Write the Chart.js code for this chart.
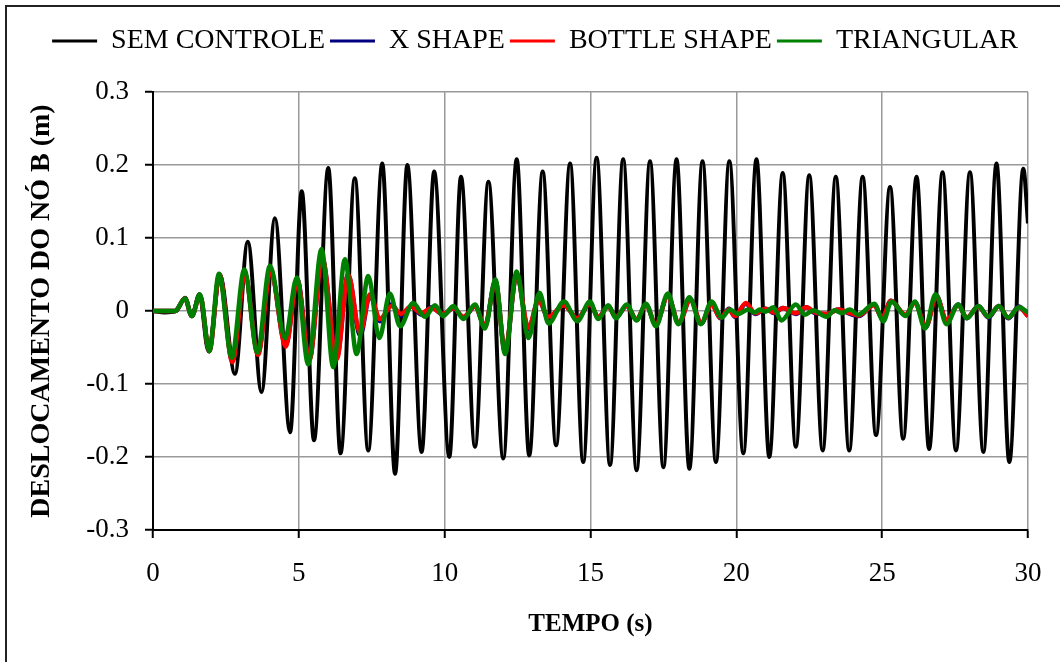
<!DOCTYPE html>
<html>
<head>
<meta charset="utf-8">
<title>Deslocamento do nó B</title>
<script src="https://cdn.jsdelivr.net/npm/chart.js@4.4.1/dist/chart.umd.min.js"></script>
<style>
    html, body { margin: 0; padding: 0; background: #fff; }
    #chart-box { width: 1060px; height: 662px; }
</style>
</head>
<body>
<div id="chart-box">
    <canvas id="deslocamento-chart" width="1060" height="662"></canvas>
</div>
<script>
// ============== data (tempo in s, deslocamento in m) ==============
const semControleTempo = [0, 0.4, 0.8, 1.1, 1.33, 1.59, 1.9, 2.3, 2.81, 3.25,
    3.72, 4.18, 4.7, 5.1, 5.52, 6.01, 6.43, 6.92, 7.38, 7.86,
    8.30, 8.72, 9.21, 9.64, 10.16, 10.56, 11.04, 11.5, 12.01, 12.47,
    12.9, 13.36, 13.82, 14.3, 14.75, 15.21, 15.67, 16.12, 16.58, 17.04,
    17.5, 17.95, 18.39, 18.84, 19.3, 19.76, 20.24, 20.69, 21.13, 21.59,
    22.04, 22.5, 22.96, 23.41, 23.87, 24.33, 24.79, 25.27, 25.72, 26.18,
    26.61, 27.07, 27.53, 28.01, 28.47, 28.92, 29.36, 29.84, 30];
const semControle = [0, -0.002, 0, 0.018, -0.007, 0.023, -0.055, 0.048, -0.086, 0.095,
    -0.111, 0.127, -0.166, 0.164, -0.177, 0.196, -0.195, 0.182, -0.191, 0.202,
    -0.223, 0.2, -0.193, 0.191, -0.2, 0.184, -0.186, 0.177, -0.202, 0.208,
    -0.198, 0.191, -0.184, 0.202, -0.207, 0.21, -0.211, 0.208, -0.218, 0.205,
    -0.214, 0.208, -0.216, 0.205, -0.207, 0.205, -0.195, 0.208, -0.2, 0.189,
    -0.186, 0.186, -0.191, 0.184, -0.191, 0.184, -0.17, 0.17, -0.175, 0.184,
    -0.189, 0.19, -0.191, 0.19, -0.193, 0.202, -0.207, 0.195, 0.12];

// X SHAPE and BOTTLE SHAPE were read at the same instants
const controleTempo = [0, 0.75, 1.1, 1.33, 1.61, 1.93, 2.28, 2.72, 3.15, 3.6,
    4.03, 4.55, 4.95, 5.36, 5.8, 6.3, 6.69, 7.1, 7.44, 7.78,
    8.18, 8.5, 8.85, 9.2, 9.55, 9.95, 10.3, 10.64, 11.04, 11.38,
    11.74, 12.07, 12.47, 12.87, 13.22, 13.56, 14.09, 14.55, 14.98, 15.27,
    15.61, 15.87, 16.24, 16.58, 16.9, 17.24, 17.65, 18.03, 18.42, 18.8,
    19.15, 19.45, 19.75, 19.95, 20.33, 20.65, 21.0, 21.3, 21.6, 22.04,
    22.4, 22.7, 23.1, 23.5, 23.9, 24.2, 24.72, 25.0, 25.3, 25.8,
    26.12, 26.5, 26.86, 27.21, 27.61, 27.9, 28.3, 28.64, 29.0, 29.32,
    29.69, 30];
const xShape = [0, 0, 0.017, -0.007, 0.022, -0.055, 0.05, -0.068, 0.05, -0.058,
    0.055, -0.047, 0.043, -0.066, 0.072, -0.064, 0.05, -0.034, 0.022, -0.014,
    0.009, -0.006, 0.006, -0.005, 0.005, -0.005, 0.004, -0.009, 0.006, -0.021,
    0.041, -0.056, 0.05, -0.025, 0.015, -0.01, 0.009, -0.011, 0.01, -0.009,
    0.007, -0.009, 0.007, -0.012, 0.009, -0.019, 0.021, -0.017, 0.016, -0.017,
    0.01, -0.01, 0.003, -0.008, 0.01, -0.004, 0.003, -0.003, 0.004, -0.004,
    0.005, -0.003, -0.004, 0.002, -0.004, -0.007, 0.009, -0.01, 0.014, -0.006,
    0.012, -0.022, 0.021, -0.014, 0.009, -0.01, 0.007, -0.009, 0.007, -0.01,
    0.006, -0.007];
const bottleShape = [0, 0, 0.017, -0.007, 0.022, -0.055, 0.05, -0.07, 0.05, -0.06,
    0.055, -0.049, 0.042, -0.067, 0.073, -0.066, 0.05, -0.03, 0.023, -0.011,
    0.007, -0.004, 0.006, -0.003, 0.004, -0.004, 0.004, -0.008, 0.006, -0.02,
    0.04, -0.055, 0.05, -0.023, 0.014, -0.008, 0.008, -0.01, 0.01, -0.008,
    0.006, -0.008, 0.007, -0.011, 0.008, -0.018, 0.02, -0.016, 0.015, -0.016,
    0.009, -0.009, 0.002, -0.007, 0.011, -0.003, 0.003, -0.002, 0.004, -0.003,
    0.005, -0.002, -0.004, 0.002, -0.003, -0.006, 0.008, -0.009, 0.014, -0.005,
    0.011, -0.021, 0.02, -0.013, 0.008, -0.009, 0.006, -0.008, 0.007, -0.009,
    0.005, -0.007];

const triangularTempo = [0, 0.75, 1.1, 1.33, 1.61, 1.93, 2.26, 2.7, 3.13, 3.58,
    4.01, 4.53, 4.93, 5.32, 5.78, 6.18, 6.58, 6.98, 7.38, 7.76,
    8.12, 8.47, 8.92, 9.32, 9.67, 9.95, 10.3, 10.64, 11.04, 11.38,
    11.74, 12.07, 12.47, 12.87, 13.25, 13.56, 14.09, 14.55, 14.98, 15.27,
    15.61, 15.87, 16.24, 16.58, 16.9, 17.24, 17.65, 18.01, 18.39, 18.78,
    19.15, 19.5, 19.78, 20.05, 20.41, 20.64, 20.8, 21.0, 21.27, 21.55,
    22.04, 22.35, 22.64, 23.09, 23.37, 23.6, 23.89, 24.18, 24.73, 25.04,
    25.32, 25.8, 26.12, 26.47, 26.83, 27.21, 27.61, 27.9, 28.3, 28.64,
    29.0, 29.32, 29.69, 30];
const triangular = [0, 0, 0.017, -0.007, 0.023, -0.055, 0.051, -0.064, 0.057, -0.057,
    0.062, -0.037, 0.046, -0.073, 0.085, -0.077, 0.071, -0.059, 0.048, -0.037,
    0.024, -0.021, 0.011, -0.008, 0.008, -0.007, 0.007, -0.011, 0.009, -0.024,
    0.043, -0.059, 0.054, -0.037, 0.025, -0.017, 0.013, -0.014, 0.013, -0.011,
    0.008, -0.01, 0.009, -0.013, 0.01, -0.021, 0.024, -0.018, 0.019, -0.018,
    0.013, -0.009, 0.002, -0.004, 0.002, -0.002, 0.002, -0.001, 0.005, -0.013,
    0.009, -0.005, 0.001, -0.008, 0.001, -0.003, 0.002, -0.005, 0.01, -0.014,
    0.013, -0.007, 0.013, -0.024, 0.023, -0.018, 0.009, -0.01, 0.007, -0.008,
    0.007, -0.009, 0.005, -0.002];

const seriesNames = ['SEM CONTROLE', 'X SHAPE', 'BOTTLE SHAPE', 'TRIANGULAR'];
const seriesColors = ['#000000', '#000080', '#ff0000', '#008000'];
const xTicks = [0, 5, 10, 15, 20, 25, 30];
const yTicks = [-0.3, -0.2, -0.1, 0, 0.1, 0.2, 0.3];

const serif = "'Times New Roman', 'Liberation Serif', serif";

function toPoints(tempo, valores) {
    return tempo.map((t, i) => ({ x: t, y: valores[i] }));
}

// ===== white page + frame around the whole picture =====
const framePlugin = {
    id: 'frame',
    beforeDraw(chart) {
        const ctx = chart.ctx;
        ctx.save();
        ctx.fillStyle = '#fff';
        ctx.fillRect(0, 0, chart.width, chart.height);
        ctx.strokeStyle = '#222';
        ctx.lineWidth = 2;
        ctx.strokeRect(6, 6, chart.width + 20, chart.height + 20);
        ctx.restore();
    }
};

const seriesData = [
    toPoints(semControleTempo, semControle),
    toPoints(controleTempo, xShape),
    toPoints(controleTempo, bottleShape),
    toPoints(triangularTempo, triangular)
];

const ctx = document.getElementById('deslocamento-chart').getContext('2d');
new Chart(ctx, {
    type: 'line',
    data: {
        datasets: seriesNames.map((name, i) => ({
            label: name,
            data: seriesData[i],
            borderColor: seriesColors[i],
            backgroundColor: seriesColors[i],
            borderWidth: i === 0 ? 4 : 4.5,
            pointRadius: 0,
            cubicInterpolationMode: 'monotone',
            order: seriesNames.length - i   // black underneath, green on top
        }))
    },
    options: {
        responsive: false,
        devicePixelRatio: 1,
        animation: false,
        layout: { padding: { top: 22, left: 10, right: 0, bottom: 0 } },
        plugins: {
            tooltip: { enabled: false },
            legend: {
                position: 'top',
                labels: {
                    color: '#000',
                    font: { family: serif, size: 28 },
                    boxWidth: 45,
                    boxHeight: 3,
                    padding: 5,
                    sort: (a, b) => a.datasetIndex - b.datasetIndex,
                    generateLabels(chart) {
                        const items = Chart.defaults.plugins.legend.labels.generateLabels(chart);
                        items.forEach(it => { it.lineWidth = 0; it.fillStyle = it.strokeStyle; });
                        return items;
                    }
                }
            },
            // empty spacer between the legend and the plot
            subtitle: {
                display: true,
                text: ' ',
                weight: 500,
                font: { size: 10 },
                padding: { top: 0, bottom: 15 }
            }
        },
        scales: {
            x: {
                type: 'linear',
                min: 0,
                max: 30,
                afterBuildTicks(scale) { scale.ticks = xTicks.map(v => ({ value: v })); },
                afterFit(scale) {
                    scale.height = 132;
                    scale.paddingLeft = 0;
                    scale.paddingRight = 32;
                },
                ticks: {
                    color: '#000',
                    font: { family: serif, size: 27 },
                    padding: 20,
                    maxRotation: 0
                },
                grid: { color: '#999', lineWidth: 1.5, tickColor: '#000', tickLength: 8, tickWidth: 2 },
                border: { color: '#000', width: 2 },
                title: {
                    display: true,
                    text: 'TEMPO (s)',
                    color: '#000',
                    font: { family: serif, size: 25, weight: 'bold' },
                    padding: { top: 0, bottom: 22 }
                }
            },
            y: {
                min: -0.3,
                max: 0.3,
                afterBuildTicks(scale) { scale.ticks = yTicks.map(v => ({ value: v })); },
                afterFit(scale) {
                    scale.width = 143;
                    scale.paddingTop = 0;
                    scale.paddingBottom = 0;
                },
                ticks: {
                    color: '#000',
                    font: { family: serif, size: 27 },
                    padding: 16,
                    callback: v => (v === 0 ? '0' : v.toFixed(1))
                },
                grid: { color: '#999', lineWidth: 1.5, tickColor: '#000', tickLength: 8, tickWidth: 2 },
                border: { color: '#000', width: 2 },
                title: {
                    display: true,
                    text: 'DESLOCAMENTO DO NÓ B (m)',
                    color: '#000',
                    font: { family: serif, size: 28, weight: 'bold' },
                    padding: { top: 15, bottom: 0 }
                }
            }
        }
    },
    plugins: [framePlugin]
});
</script>
</body>
</html>
